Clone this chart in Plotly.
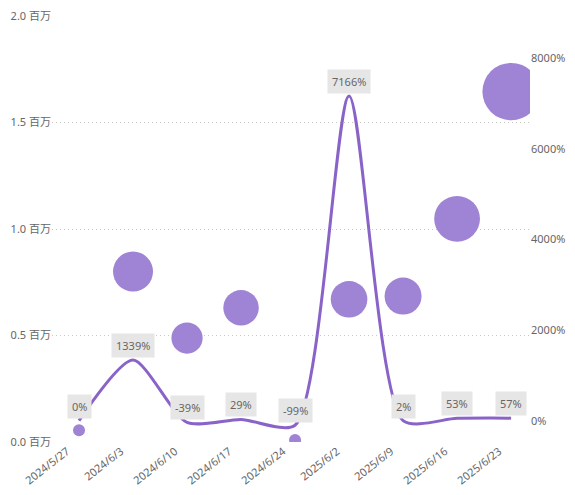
import plotly.graph_objects as go

dates = ["2024/5/27", "2024/6/3", "2024/6/10", "2024/6/17", "2024/6/24",
         "2025/6/2", "2025/6/9", "2025/6/16", "2025/6/23"]
amount = [55600, 800000, 488000, 630000, 9200, 670000, 685000, 1048000, 1645000]
growth_pct = [0, 1339, -39, 29, -99, 7166, 2, 53, 57]

left_ticks = [0, 500000, 1000000, 1500000, 2000000]
left_tick_text = ["0.0 百万", "0.5 百万", "1.0 百万", "1.5 百万", "2.0 百万"]
right_ticks = [0, 2000, 4000, 6000, 8000]
right_tick_text = ["0%", "2000%", "4000%", "6000%", "8000%"]

FONT = "Segoe UI, Noto Sans, Noto Sans CJK SC, sans-serif"
GREY = "#666666"
BUBBLE = "#9f83d4"
LINE = "#8a63c9"

fig = go.Figure()
fig.add_trace(go.Scatter(
    x=dates, y=amount, mode="markers", yaxis="y",
    marker=dict(size=amount, sizemode="area", sizeref=1000, sizemin=6,
                color=BUBBLE, opacity=1, line=dict(width=0)),
    showlegend=False, hoverinfo="skip"))
fig.add_trace(go.Scatter(
    x=dates, y=growth_pct, mode="lines", yaxis="y2",
    line=dict(color=LINE, width=3, shape="spline", smoothing=0.7),
    showlegend=False, hoverinfo="skip"))

for d, g in zip(dates, growth_pct):
    fig.add_annotation(x=d, y=g, yref="y2", text=f"{g}%", showarrow=False,
                       yanchor="bottom", yshift=2, bgcolor="#e6e6e6",
                       borderpad=4, font=dict(family=FONT, size=11, color=GREY))

fig.update_layout(
    width=575, height=495,
    margin=dict(l=52, r=45, t=16, b=53),
    paper_bgcolor="white", plot_bgcolor="white",
    font=dict(family=FONT, size=11, color=GREY),
    xaxis=dict(type="category", range=[-0.5, 8.35], tickangle=-38,
               automargin=False, ticklabelshift=-12,
               showgrid=False, showline=False, zeroline=False, ticks="",
               tickfont=dict(size=11, color=GREY)),
    yaxis=dict(range=[0, 2000000], tickvals=left_ticks, ticktext=left_tick_text,
               automargin=False,
               showgrid=True, gridcolor="#c8c8c8", griddash="1px,3px", gridwidth=1,
               zeroline=False, showline=False, ticks="",
               tickfont=dict(size=11, color=GREY)),
    yaxis2=dict(range=[-470, 8934], overlaying="y", side="right",
                automargin=False,
                tickvals=right_ticks, ticktext=right_tick_text,
                showgrid=False, zeroline=False, showline=False, ticks="",
                tickfont=dict(size=11, color=GREY)),
)

fig.write_html("out.html", config={"displayModeBar": False},
               post_script="document.body.style.margin='0px';")
